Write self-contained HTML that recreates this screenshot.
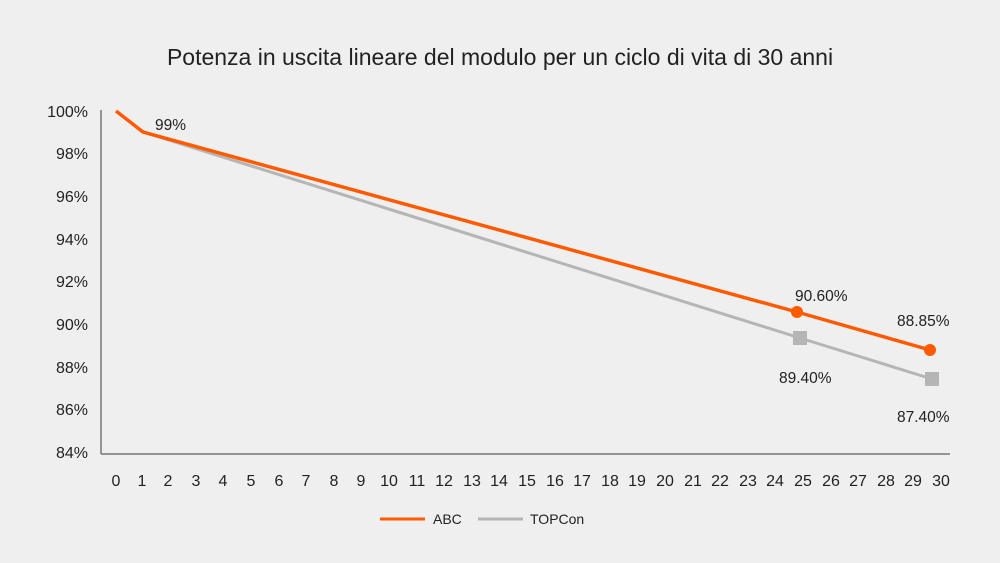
<!DOCTYPE html>
<html><head><meta charset="utf-8"><style>
html,body{margin:0;padding:0;background:#efefef;}
svg{display:block;font-family:"Liberation Sans",sans-serif;}
</style></head><body>
<svg width="1000" height="563" viewBox="0 0 1000 563">
<rect width="1000" height="563" fill="#efefef"/>
<text x="500" y="65" font-size="23" text-anchor="middle" fill="#222">Potenza in uscita lineare del modulo per un ciclo di vita di 30 anni</text>
<g font-size="16" fill="#222" text-anchor="end">
<text x="88" y="117">100%</text><text x="88" y="159">98%</text><text x="88" y="202">96%</text>
<text x="88" y="245">94%</text><text x="88" y="287">92%</text><text x="88" y="330">90%</text>
<text x="88" y="373">88%</text><text x="88" y="415">86%</text><text x="88" y="458">84%</text>
</g>
<line x1="101" y1="110" x2="101" y2="454" stroke="#777" stroke-width="1.5"/>
<line x1="101" y1="454" x2="950" y2="454" stroke="#777" stroke-width="1.5"/>
<g font-size="16" fill="#222" text-anchor="middle">
<text x="116" y="486">0</text><text x="142" y="486">1</text>
<text x="168" y="486">2</text><text x="196" y="486">3</text><text x="223" y="486">4</text><text x="251" y="486">5</text><text x="279" y="486">6</text><text x="306" y="486">7</text><text x="334" y="486">8</text><text x="361" y="486">9</text><text x="389" y="486">10</text><text x="417" y="486">11</text><text x="444" y="486">12</text><text x="472" y="486">13</text><text x="499" y="486">14</text><text x="527" y="486">15</text><text x="555" y="486">16</text><text x="582" y="486">17</text><text x="610" y="486">18</text><text x="637" y="486">19</text><text x="665" y="486">20</text><text x="693" y="486">21</text><text x="720" y="486">22</text><text x="748" y="486">23</text><text x="775" y="486">24</text><text x="803" y="486">25</text><text x="831" y="486">26</text><text x="858" y="486">27</text><text x="886" y="486">28</text><text x="913" y="486">29</text><text x="941" y="486">30</text>
</g>
<polyline points="143,132 800,338 932,379" fill="none" stroke="#b5b5b5" stroke-width="3"/>
<rect x="793" y="331" width="14" height="14" fill="#b5b5b5"/>
<rect x="925" y="372" width="14" height="14" fill="#b5b5b5"/>
<polyline points="116,111 143,132 797,312 930,350" fill="none" stroke="#ff5a00" stroke-width="3.5"/>
<circle cx="797" cy="312" r="6" fill="#ff5a00"/>
<circle cx="930" cy="350" r="6" fill="#ff5a00"/>
<g font-size="15.5" fill="#222">
<text x="155" y="130">99%</text>
<text x="795" y="301">90.60%</text>
<text x="897" y="326">88.85%</text>
<text x="779" y="383">89.40%</text>
<text x="897" y="422">87.40%</text>
</g>
<line x1="380" y1="519" x2="425" y2="519" stroke="#ff5a00" stroke-width="3"/>
<text x="433" y="524" font-size="14" fill="#222">ABC</text>
<line x1="478" y1="519" x2="523" y2="519" stroke="#b5b5b5" stroke-width="3"/>
<text x="530" y="524" font-size="14" fill="#222">TOPCon</text>
</svg>
</body></html>
